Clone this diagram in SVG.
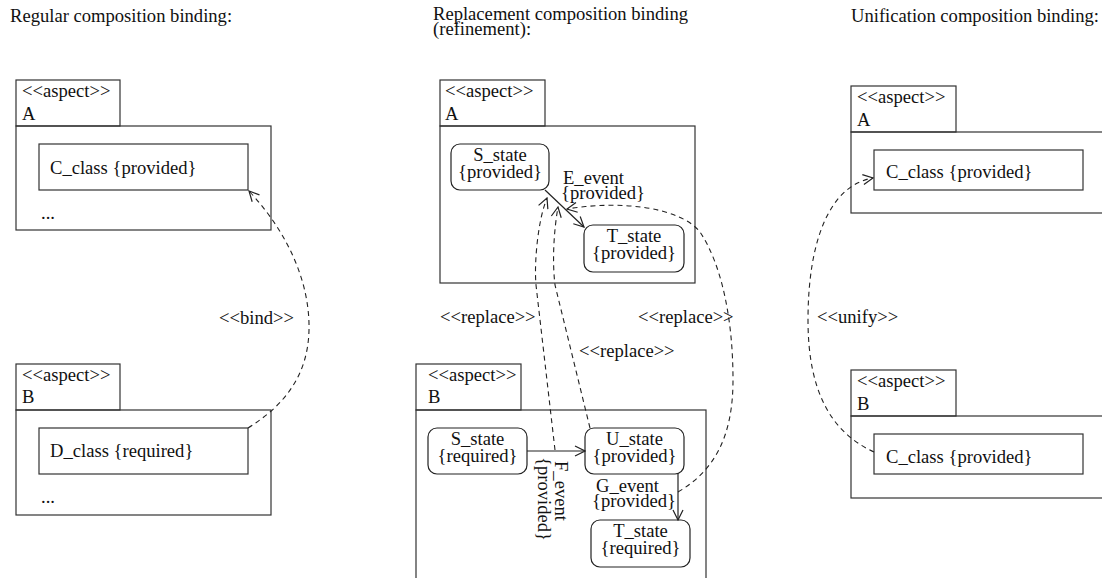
<svg xmlns="http://www.w3.org/2000/svg" width="1102" height="578" viewBox="0 0 1102 578">
  <defs>
    <marker id="open" viewBox="0 0 12 12" refX="11" refY="6" markerWidth="12" markerHeight="12" markerUnits="userSpaceOnUse" orient="auto">
      <path d="M1,1 L11,6 L1,11" fill="none" stroke="#222" stroke-width="1.2" stroke-dasharray="none"/>
    </marker>
  </defs>
  <style>
    text { font-family: "Liberation Serif", "Times New Roman", serif; font-size: 18.6px; fill: #111; }
    .mid { text-anchor: middle; }
    .frame { fill: none; stroke: #333; stroke-width: 1.2; }
    .state { fill: #fff; stroke: #222; stroke-width: 1.2; }
    .trans { fill: none; stroke: #222; stroke-width: 1.2; marker-end: url(#open); }
    .dep { fill: none; stroke: #222; stroke-width: 1.1; stroke-dasharray: 5 4; }
    .dep.head { marker-end: url(#open); }
  </style>

  <rect width="1102" height="578" fill="#fff"/>

  <!-- Column titles -->
  <g id="titles">
    <text x="10" y="22">Regular composition binding:</text>
    <text x="433" y="20">Replacement composition binding</text>
    <text x="433" y="35">(refinement):</text>
    <text x="851" y="22">Unification composition binding:</text>
  </g>

  <!-- Regular binding: aspect A -->
  <g id="reg-aspect-a">
    <rect class="frame" x="16" y="80" width="104" height="46"/>
    <rect class="frame" x="16" y="126" width="255" height="104"/>
    <text x="22" y="97">&lt;&lt;aspect&gt;&gt;</text>
    <text x="22" y="120">A</text>
    <text x="41" y="219">...</text>
  </g>
  <g id="reg-c-class">
    <rect class="frame" x="39" y="144" width="209" height="46"/>
    <text x="50" y="174">C_class {provided}</text>
  </g>

  <!-- Regular binding: aspect B -->
  <g id="reg-aspect-b">
    <rect class="frame" x="16" y="364" width="104" height="46"/>
    <rect class="frame" x="16" y="410" width="255" height="105"/>
    <text x="22" y="381">&lt;&lt;aspect&gt;&gt;</text>
    <text x="22" y="403">B</text>
    <text x="41" y="503">...</text>
  </g>
  <g id="reg-d-class">
    <rect class="frame" x="39" y="428" width="209" height="46"/>
    <text x="50" y="457">D_class {required}</text>
  </g>

  <!-- Replacement binding: aspect A -->
  <g id="rep-aspect-a">
    <rect class="frame" x="440" y="80" width="105" height="46"/>
    <rect class="frame" x="440" y="126" width="255" height="157"/>
    <text x="445" y="97">&lt;&lt;aspect&gt;&gt;</text>
    <text x="445" y="120">A</text>
  </g>
  <g id="rep-a-s-state">
    <rect class="state" x="451" y="144" width="98" height="46" rx="9"/>
    <text class="mid" x="500" y="161">S_state</text>
    <text class="mid" x="500" y="178">{provided}</text>
  </g>
  <g id="rep-a-t-state">
    <rect class="state" x="584" y="225" width="100" height="47" rx="9"/>
    <text class="mid" x="634" y="242">T_state</text>
    <text class="mid" x="634" y="259">{provided}</text>
  </g>

  <!-- Replacement binding: aspect B -->
  <g id="rep-aspect-b">
    <rect class="frame" x="416" y="364" width="105" height="46"/>
    <rect class="frame" x="416" y="410" width="290" height="190"/>
    <text x="428" y="381">&lt;&lt;aspect&gt;&gt;</text>
    <text x="428" y="403">B</text>
  </g>
  <g id="rep-b-s-state">
    <rect class="state" x="428" y="428" width="99" height="46" rx="9"/>
    <text class="mid" x="477.5" y="445">S_state</text>
    <text class="mid" x="477.5" y="462">{required}</text>
  </g>
  <g id="rep-b-u-state">
    <rect class="state" x="585" y="428" width="99" height="46" rx="9"/>
    <text class="mid" x="634.5" y="445">U_state</text>
    <text class="mid" x="634.5" y="462">{provided}</text>
  </g>
  <g id="rep-b-t-state">
    <rect class="state" x="591" y="520" width="99" height="47" rx="9"/>
    <text class="mid" x="640.5" y="537">T_state</text>
    <text class="mid" x="640.5" y="554">{required}</text>
  </g>

  <!-- Unification binding: aspect A -->
  <g id="uni-aspect-a">
    <rect class="frame" x="851" y="86" width="105" height="46"/>
    <rect class="frame" x="851" y="132" width="270" height="81"/>
    <text x="857" y="103">&lt;&lt;aspect&gt;&gt;</text>
    <text x="857" y="126">A</text>
  </g>
  <g id="uni-a-c-class">
    <rect class="frame" x="874" y="150" width="209" height="40"/>
    <text x="886" y="178">C_class {provided}</text>
  </g>

  <!-- Unification binding: aspect B -->
  <g id="uni-aspect-b">
    <rect class="frame" x="851" y="370" width="105" height="46"/>
    <rect class="frame" x="851" y="416" width="270" height="82"/>
    <text x="857" y="387">&lt;&lt;aspect&gt;&gt;</text>
    <text x="857" y="410">B</text>
  </g>
  <g id="uni-b-c-class">
    <rect class="frame" x="874" y="434" width="209" height="40"/>
    <text x="886" y="463">C_class {provided}</text>
  </g>

  <!-- Connectors: transitions and dependencies -->
  <g id="connectors">
    <!-- state transitions -->
    <path class="trans" d="M545,190 L584,227"/>
    <path class="trans" d="M527,451 L585,451"/>
    <path class="trans" d="M678,474 L678,520"/>

    <!-- bind -->
    <path class="dep head" d="M248,428 C285,405 308,375 309,330 C310,285 290,235 249,191"/>
    <!-- replace (three) -->
    <path class="dep head" d="M555,450 L536,285 C534,262 538,220 547,198"/>
    <path class="dep head" d="M590,428 L555,285 C552,260 554,230 558,207"/>
    <path class="dep head" d="M678,492 C712,472 733,440 733,380 C733,320 722,265 700,232 C680,207 620,200 567,209"/>
    <!-- unify -->
    <path class="dep head" d="M874,452 C830,432 808,390 808,320 C808,240 830,185 873,178"/>
  </g>

  <!-- Connector labels -->
  <g id="labels">
    <text x="555" y="461" transform="rotate(90 555 461)">F_event</text>
    <text x="538" y="457" transform="rotate(90 538 457)">{provided}</text>
    <text x="563" y="184">E_event</text>
    <text x="561" y="199">{provided}</text>
    <text x="596" y="492">G_event</text>
    <text x="592" y="507">{provided}</text>
    <text x="219" y="324">&lt;&lt;bind&gt;&gt;</text>
    <text x="440" y="323">&lt;&lt;replace&gt;&gt;</text>
    <text x="638" y="323">&lt;&lt;replace&gt;&gt;</text>
    <text x="579" y="357">&lt;&lt;replace&gt;&gt;</text>
    <text x="817" y="323">&lt;&lt;unify&gt;&gt;</text>
  </g>
</svg>
